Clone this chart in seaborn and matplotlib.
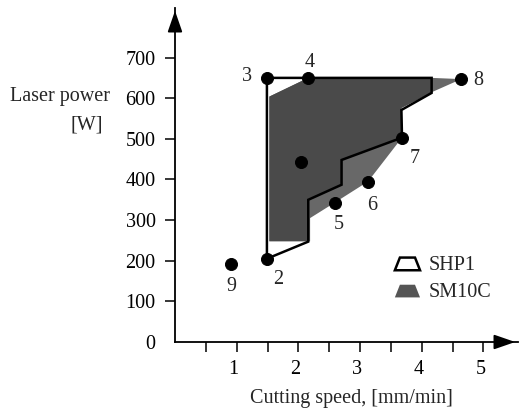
import matplotlib
matplotlib.use("Agg")
import matplotlib.pyplot as plt
import matplotlib.transforms as mtransforms
import seaborn as sns
import pandas as pd
from matplotlib.patches import Polygon
from matplotlib.legend_handler import HandlerPatch

# ---- data ----
point_labels = ["2", "3", "4", "5", "6", "7", "8", "9", ""]
point_speed = [1.49, 1.49, 2.16, 2.59, 3.13, 3.68, 4.64, 0.91, 2.04]
point_power = [205, 650, 650, 343, 395, 503, 648, 191, 442]

shp1_speed = [1.49, 4.16, 4.16, 3.67, 3.68, 2.70, 2.70, 2.16, 2.16, 1.49]
shp1_power = [650, 650, 613, 571, 503, 448, 387, 350, 247, 205]

sm10c_speed = [1.53, 2.16, 4.16, 4.64, 4.18, 3.67, 3.68, 3.13, 2.59, 2.19, 2.19, 1.53]
sm10c_power = [604, 650, 650, 647, 616, 576, 503, 395, 343, 305, 248, 248]

x_ticks = [0.5, 1, 1.5, 2, 2.5, 3, 3.5, 4, 4.5, 5]
x_ticklabels = ["", "1", "", "2", "", "3", "", "4", "", "5"]
y_ticks = [0, 100, 200, 300, 400, 500, 600, 700]

sns.set_style("ticks")
plt.rcParams["font.family"] = ["Liberation Serif", "DejaVu Serif"]
FS = 14.5

fig = plt.figure(figsize=(5.2, 4.11), dpi=100)
ax = fig.add_axes([175 / 520, 1 - 342 / 411, (518 - 175) / 520, (342 - 8) / 411])
ax.set_xlim(0, 5.56)
ax.set_ylim(0, 822)

# shaded region SM10C (lighter outside SHP1, darker where overlapping)
sm_patch = ax.fill(sm10c_speed, sm10c_power, facecolor="#686868", edgecolor="none",
                   zorder=2, label="SM10C")[0]
sm_inner = ax.fill(sm10c_speed, sm10c_power, facecolor="#4a4a4a", edgecolor="none",
                   zorder=2.1)[0]
# SHP1 outline
shp_patch = ax.fill(shp1_speed, shp1_power, facecolor="none", edgecolor="black",
                    linewidth=1.8, zorder=3, label="SHP1")[0]
sm_inner.set_clip_path(shp_patch)

df = pd.DataFrame({"speed": point_speed, "power": point_power, "label": point_labels})
sns.scatterplot(data=df, x="speed", y="power", color="black", s=75, edgecolor="black",
                zorder=4, ax=ax, legend=False)

offsets = {"2": (8, -15), "3": (-14, 1), "4": (1, 11), "5": (3, -16), "6": (3, -17),
           "7": (9, -15), "8": (12, -1), "9": (0, -16)}
for lab, xv, yv in zip(point_labels, point_speed, point_power):
    if lab:
        dx, dy = offsets[lab]
        ax.annotate(lab, (xv, yv), xytext=(dx, dy), textcoords="offset points",
                    ha="center", va="center", fontsize=FS)

# axes styling
for s in ["top", "right"]:
    ax.spines[s].set_visible(False)
for s in ["left", "bottom"]:
    ax.spines[s].set_linewidth(1.3)
    ax.spines[s].set_color("black")
ax.set_xticks(x_ticks)
ax.set_xticklabels(x_ticklabels)
ax.set_yticks(y_ticks)
ax.tick_params(axis="both", direction="out", length=7, width=1.1, labelsize=FS,
               colors="black", bottom=True, left=True)
ax.tick_params(axis="x", pad=6)
ax.tick_params(axis="y", pad=7)
ax.yaxis.get_major_ticks()[0].tick1line.set_visible(False)
shift = mtransforms.ScaledTranslation(-3 / 100, 0, fig.dpi_scale_trans)
for lbl in ax.get_xticklabels():
    lbl.set_transform(lbl.get_transform() + shift)
ax.set_xlabel("Cutting speed, [mm/min]", fontsize=FS)
ax.xaxis.set_label_coords(0.513, -0.142)
ax.set_ylabel("")
fig.text(60 / 520, 1 - 96 / 411, "Laser power", ha="center", va="center", fontsize=FS)
fig.text(87 / 520, 1 - 125 / 411, "[W]", ha="center", va="center", fontsize=FS)

# arrow heads
ax.annotate("", xy=(0, 1.0), xycoords="axes fraction", xytext=(0, 0.93),
            arrowprops=dict(arrowstyle="-|>,head_length=1.3,head_width=0.45",
                            color="black", lw=1.3))
ax.annotate("", xy=(1.0, 0), xycoords="axes fraction", xytext=(0.94, 0),
            arrowprops=dict(arrowstyle="-|>,head_length=1.3,head_width=0.45",
                            color="black", lw=1.3))


class HandlerTrap(HandlerPatch):
    def create_artists(self, legend, orig_handle, xdescent, ydescent, width, height,
                       fontsize, trans):
        w, h = width, height * 0.9
        verts = [(-xdescent, -ydescent), (-xdescent + w, -ydescent),
                 (-xdescent + w * 0.8, -ydescent + h), (-xdescent + w * 0.2, -ydescent + h)]
        p = Polygon(verts, closed=True)
        self.update_prop(p, orig_handle, legend)
        p.set_transform(trans)
        return [p]


leg = ax.legend(handles=[shp_patch, sm_patch], labels=["SHP1", "SM10C"],
                handler_map={shp_patch: HandlerTrap(), sm_patch: HandlerTrap()},
                loc="upper left", bbox_to_anchor=(0.641, 0.257), frameon=False,
                fontsize=FS, handlelength=1.25, handleheight=0.7, handletextpad=0.45,
                labelspacing=0.4, borderpad=0, borderaxespad=0)
leg.legend_handles[1].set_facecolor("#555555")

fig.savefig("out.png", dpi=100)
